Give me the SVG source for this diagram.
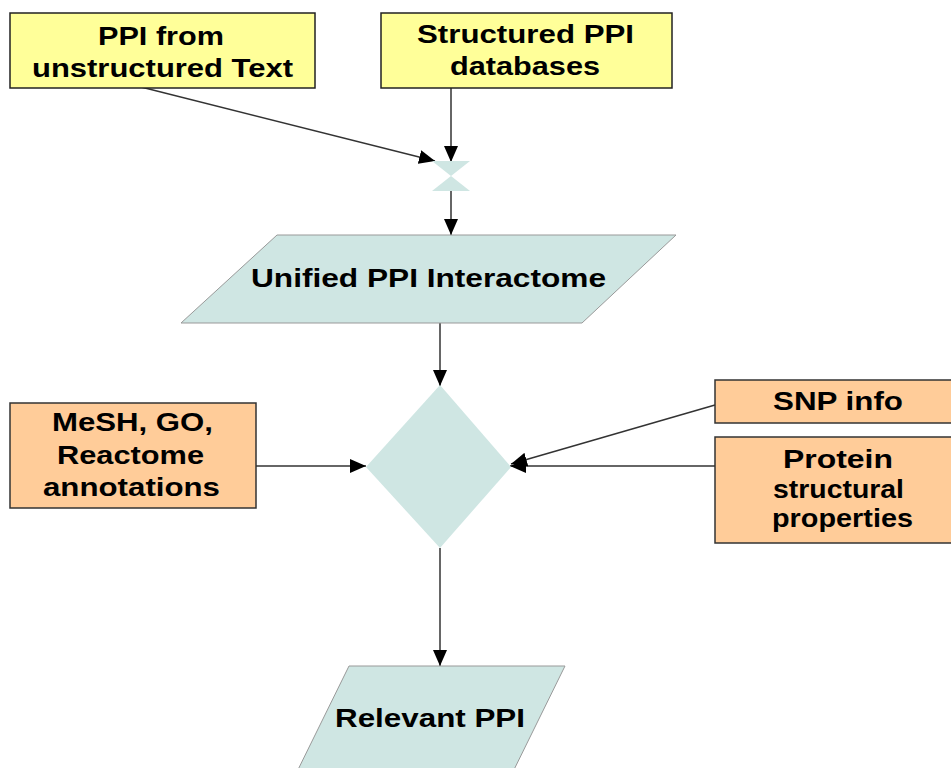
<svg xmlns="http://www.w3.org/2000/svg" width="951" height="768" viewBox="0 0 951 768">
<style>
.t{font-family:"Liberation Sans",Arial,sans-serif;font-weight:bold;font-size:26px;fill:#000;text-anchor:middle}
.y{fill:#FFFF99;stroke:#222;stroke-width:1.5}
.o{fill:#FFCC99;stroke:#333;stroke-width:1.5}
.p{fill:#CFE6E3;stroke:#999;stroke-width:1}
.c{fill:none;stroke:#333;stroke-width:1.5}
</style>
<defs>
<marker id="ah" viewBox="0 0 16 14" refX="16" refY="7" markerWidth="16" markerHeight="14" markerUnits="userSpaceOnUse" orient="auto">
<path d="M0,0 L16,7 L0,14 Z" fill="#000"/>
</marker>
</defs>
<rect width="951" height="768" fill="#fff"/>
<g id="connectors">
<line class="c" x1="141" y1="87" x2="435" y2="161" marker-end="url(#ah)"/>
<line class="c" x1="451" y1="88" x2="451" y2="162" marker-end="url(#ah)"/>
<line class="c" x1="451" y1="191" x2="451" y2="235" marker-end="url(#ah)"/>
<line class="c" x1="440" y1="323" x2="440" y2="386" marker-end="url(#ah)"/>
<line class="c" x1="256" y1="466" x2="366" y2="466" marker-end="url(#ah)"/>
<line class="c" x1="715" y1="466" x2="510" y2="466" marker-end="url(#ah)"/>
<line class="c" x1="715" y1="405" x2="511" y2="464" marker-end="url(#ah)"/>
<line class="c" x1="440" y1="548" x2="440" y2="666" marker-end="url(#ah)"/>
</g>
<g id="n_text">
<rect class="y" x="10" y="13" width="305" height="75"/>
<text class="t" x="161" y="45" textLength="126" lengthAdjust="spacingAndGlyphs">PPI from</text>
<text class="t" x="162.5" y="77" textLength="261" lengthAdjust="spacingAndGlyphs">unstructured Text</text>
</g>
<g id="n_db">
<rect class="y" x="381" y="13" width="291" height="75"/>
<text class="t" x="525.5" y="43" textLength="217" lengthAdjust="spacingAndGlyphs">Structured PPI</text>
<text class="t" x="525" y="75" textLength="150" lengthAdjust="spacingAndGlyphs">databases</text>
</g>
<g id="n_merge">
<path d="M432,161 L470,161 L451,176 Z M451,176 L470,191 L432,191 Z" fill="#CFE6E3"/>
</g>
<g id="n_unified">
<path class="p" d="M277,235 L676,235 L582,323 L181,323 Z"/>
<text class="t" x="428.5" y="287" textLength="355" lengthAdjust="spacingAndGlyphs">Unified PPI Interactome</text>
</g>
<g id="n_decision">
<path d="M440,385 L511,467 L440,548 L366,467 Z" fill="#CFE6E3"/>
</g>
<g id="n_mesh">
<rect class="o" x="10" y="403" width="246" height="105"/>
<text class="t" x="132.5" y="431" textLength="161" lengthAdjust="spacingAndGlyphs">MeSH, GO,</text>
<text class="t" x="130.5" y="464" textLength="147" lengthAdjust="spacingAndGlyphs">Reactome</text>
<text class="t" x="131.5" y="496" textLength="177" lengthAdjust="spacingAndGlyphs">annotations</text>
</g>
<g id="n_snp">
<rect class="o" x="715" y="380" width="240" height="43"/>
<text class="t" x="838" y="410" textLength="130" lengthAdjust="spacingAndGlyphs">SNP info</text>
</g>
<g id="n_protein">
<rect class="o" x="715" y="437" width="240" height="106"/>
<text class="t" x="838" y="468" textLength="110" lengthAdjust="spacingAndGlyphs">Protein</text>
<text class="t" x="838.5" y="498" textLength="131" lengthAdjust="spacingAndGlyphs">structural</text>
<text class="t" x="842.5" y="527" textLength="141" lengthAdjust="spacingAndGlyphs">properties</text>
</g>
<g id="n_relevant">
<path class="p" d="M349,666 L565,666 L504,790 L288,790 Z"/>
<text class="t" x="430" y="727" textLength="190" lengthAdjust="spacingAndGlyphs">Relevant PPI</text>
</g>
</svg>
